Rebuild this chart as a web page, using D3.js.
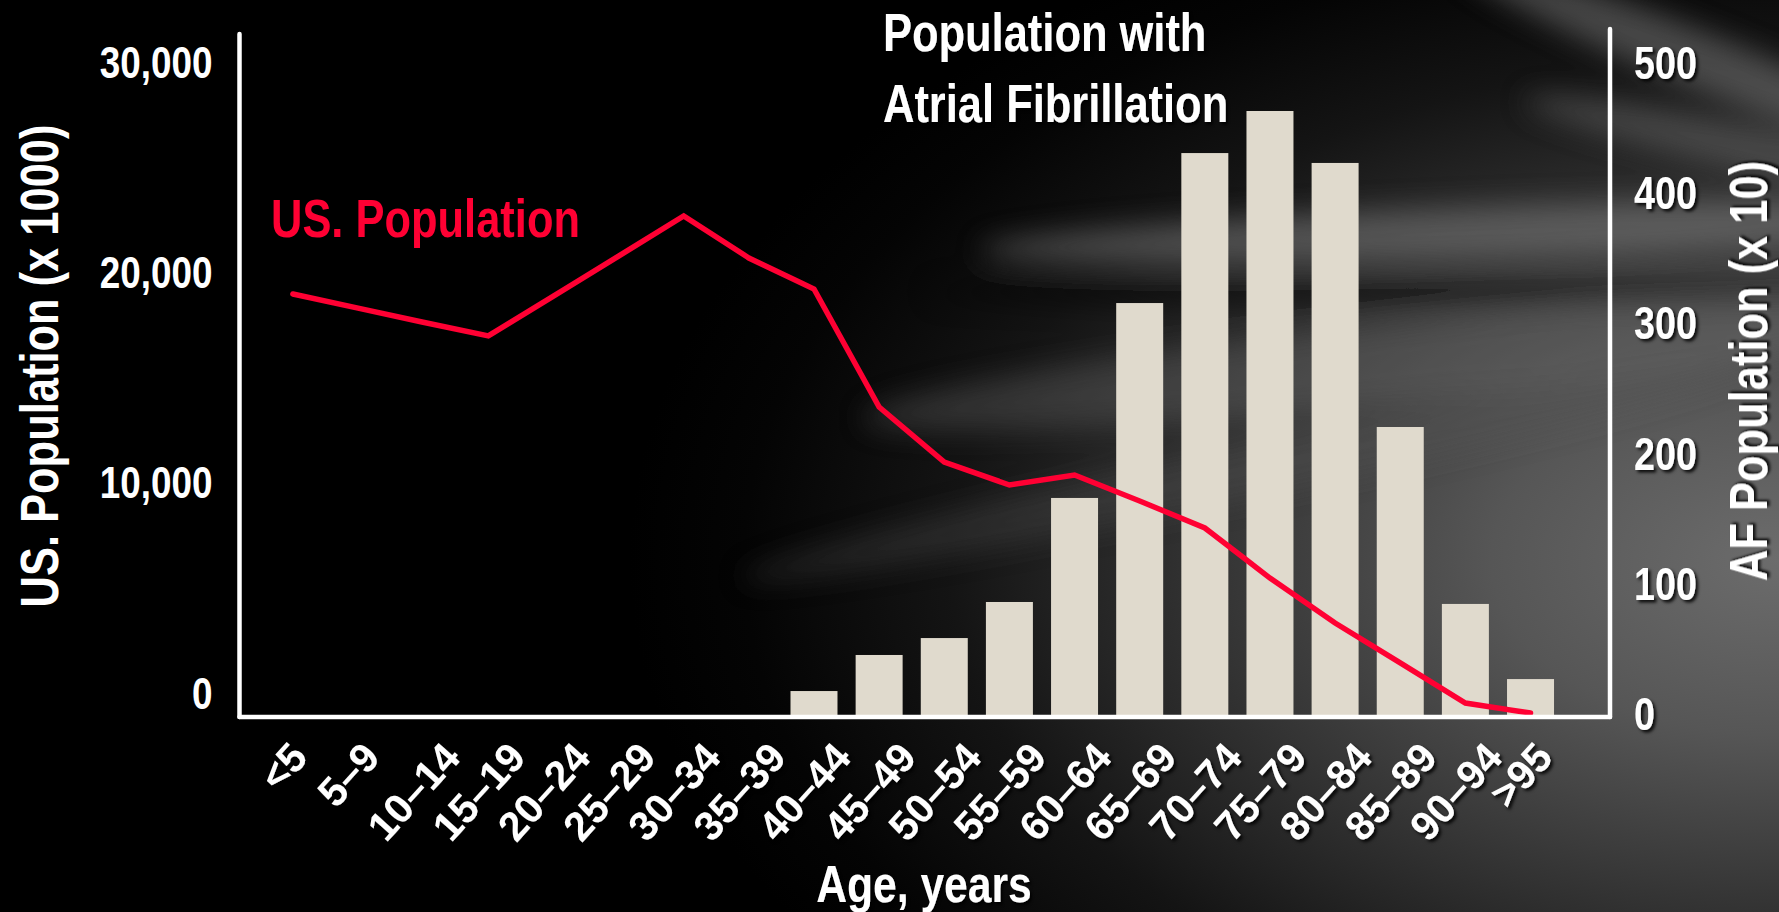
<!DOCTYPE html>
<html>
<head>
<meta charset="utf-8">
<script src="https://cdn.jsdelivr.net/npm/d3@7"></script>
<style>
html,body{margin:0;padding:0;background:#000;overflow:hidden}
svg{display:block}
</style>
</head>
<body>
<svg id="chart" width="1779" height="912"></svg>
<script>
// ---------------- DATA ----------------
const categories = ["<5","5–9","10–14","15–19","20–24","25–29","30–34","35–39","40–44","45–49",
  "50–54","55–59","60–64","65–69","70–74","75–79","80–84","85–89","90–94",">95"];
// US population (x 1000) – red line, left axis
const usPopulation = [19400,18750,18100,17470,19300,21150,23000,21060,19630,14190,
  11660,10600,11060,9860,8620,6310,4240,2400,550,90];
// Population with atrial fibrillation (x 10) – bars, right axis
const afPopulation = [0,0,0,0,0,0,0,0,18.4,46.1,59.1,86.8,166.7,316.4,431.6,463.9,424,221.2,85.3,27.6];
const leftTicks = [0,10000,20000,30000];
const rightTicks = [0,100,200,300,400,500];

// ---------------- SETUP ----------------
const W = 1779, H = 912;
const FONT = "'Liberation Sans', Arial, Helvetica, sans-serif";
const NARROW = 0.82;
const RED = "#ff0033";
const BAR = "#e0dacd";

const svg = d3.select("#chart");
const defs = svg.append("defs");

// background glow
const rg = defs.append("radialGradient").attr("id","bgGlow")
  .attr("gradientUnits","userSpaceOnUse").attr("cx",0).attr("cy",0).attr("r",1)
  .attr("gradientTransform","translate(1779,560) scale(1150,700)");
[[0,"#6c6c6c"],[0.25,"#565656"],[0.5,"#333333"],[0.72,"#141414"],[0.9,"#040404"],[1,"#000000"]]
  .forEach(([o,c]) => rg.append("stop").attr("offset",o).attr("stop-color",c));

defs.append("filter").attr("id","blur1").attr("x","-50%").attr("y","-50%").attr("width","200%").attr("height","200%")
  .append("feGaussianBlur").attr("stdDeviation",14);

const shadow = defs.append("filter").attr("id","shadow").attr("x","-20%").attr("y","-20%").attr("width","140%").attr("height","140%");
shadow.append("feDropShadow").attr("dx",2.5).attr("dy",2.5).attr("stdDeviation",1.5)
  .attr("flood-color","#000").attr("flood-opacity",0.85);

const bg = svg.append("g");
bg.append("rect").attr("width",W).attr("height",H).attr("fill","#000");
bg.append("rect").attr("width",W).attr("height",H).attr("fill","url(#bgGlow)");
// light streaks radiating from right edge
const streaks = bg.append("g").attr("filter","url(#blur1)");
streaks.append("ellipse").attr("cx",1700).attr("cy",60).attr("rx",260).attr("ry",28)
  .attr("transform","rotate(22,1700,60)").attr("fill","#8a8a8a").attr("opacity",0.45);
streaks.append("ellipse").attr("cx",1760).attr("cy",150).attr("rx",240).attr("ry",22)
  .attr("transform","rotate(12,1760,150)").attr("fill","#7a7a7a").attr("opacity",0.4);
streaks.append("ellipse").attr("cx",1500).attr("cy",232).attr("rx",520).attr("ry",26)
  .attr("transform","rotate(-2,1500,232)").attr("fill","#8c8c8c").attr("opacity",0.45);
streaks.append("ellipse").attr("cx",1450).attr("cy",292).attr("rx",520).attr("ry",12)
  .attr("fill","#000").attr("opacity",0.6);
streaks.append("ellipse").attr("cx",1420).attr("cy",360).attr("rx",560).attr("ry",40)
  .attr("transform","rotate(-6,1420,360)").attr("fill","#7a7a7a").attr("opacity",0.3);
streaks.append("ellipse").attr("cx",1250).attr("cy",470).attr("rx",520).attr("ry",26)
  .attr("transform","rotate(-12,1250,470)").attr("fill","#5a5a5a").attr("opacity",0.3);

// ---------------- SCALES ----------------
const x = d3.scaleBand().domain(categories).range([260.3, 1563.1])
  .paddingInner(0.2785).paddingOuter(0.1393);
const yLine = d3.scaleLinear().domain([0,30000]).range([715,64]);
const yLeftAxis = d3.scaleLinear().domain([0,30000]).range([692,61]);
const yRight = d3.scaleLinear().domain([0,500]).range([715,64]);

// ---------------- BARS ----------------
const barData = categories.map((c,i) => ({c, v: afPopulation[i]})).filter(d => d.v > 0);
svg.append("g").selectAll("rect").data(barData).join("rect")
  .attr("x", d => x(d.c))
  .attr("width", x.bandwidth())
  .attr("y", d => yRight(d.v))
  .attr("height", d => yRight(0) - yRight(d.v))
  .attr("fill", BAR);

// ---------------- LINE ----------------
const lineData = categories.map((c,i) => ({c, v: usPopulation[i]}));
svg.append("path").datum(lineData)
  .attr("d", d3.line().x(d => x(d.c) + x.bandwidth()/2).y(d => yLine(d.v)))
  .attr("fill","none").attr("stroke",RED).attr("stroke-width",5.5)
  .attr("stroke-linejoin","miter").attr("stroke-linecap","round");

// ---------------- AXIS LINES ----------------
const axes = svg.append("g").attr("stroke","#fff").attr("stroke-width",4.5).attr("stroke-linecap","round");
axes.append("line").attr("x1",239.5).attr("x2",239.5).attr("y1",34).attr("y2",717);
axes.append("line").attr("x1",1610).attr("x2",1610).attr("y1",29).attr("y2",717);
axes.append("line").attr("x1",239.5).attr("x2",1610).attr("y1",717).attr("y2",717);

// ---------------- AXES ----------------
const gL = svg.append("g").attr("transform","translate(239.5,0)")
  .call(d3.axisLeft(yLeftAxis).tickValues(leftTicks).tickSize(0).tickFormat(d3.format(",")));
gL.select(".domain").remove();
gL.attr("font-family",FONT).attr("font-size",45).attr("font-weight","bold");
gL.selectAll("text").attr("fill","#fff").attr("x",0).attr("dy","0.36em")
  .attr("transform",`translate(-27,0) scale(${NARROW},1)`);

const gR = svg.append("g").attr("transform","translate(1610,0)")
  .call(d3.axisRight(yRight).tickValues(rightTicks).tickSize(0).tickFormat(d3.format("d")));
gR.select(".domain").remove();
gR.attr("font-family",FONT).attr("font-size",46).attr("font-weight","bold").attr("filter","url(#shadow)");
gR.selectAll("text").attr("fill","#fff").attr("x",0).attr("dy","0.36em")
  .attr("transform",`translate(24,-2) scale(${NARROW},1)`);

// category labels: rotated, bounding box top-aligned below the axis
const XFS = 41, ANG = 48;
const gB = svg.append("g").attr("transform","translate(0,717)")
  .call(d3.axisBottom(x).tickSize(0));
gB.select(".domain").remove();
gB.attr("font-family",FONT).attr("font-size",XFS).attr("font-weight","bold").attr("filter","url(#shadow)");
gB.selectAll("text").attr("fill","#fff").attr("x",0).attr("y",0).attr("dy","0.36em")
  .attr("text-anchor","middle")
  .each(function() {
    const L = this.getComputedTextLength();
    const h = 0.716 * XFS;
    const a = ANG * Math.PI / 180;
    const halfH = (L * Math.sin(a) + h * Math.cos(a)) / 2;
    d3.select(this).attr("transform", `translate(-10,${22 + halfH}) rotate(${-ANG})`);
  });

// ---------------- TEXTS ----------------
function narrowText(str, tx, ty, size, opts = {}) {
  const t = svg.append("text")
    .attr("transform", `translate(${tx},${ty})${opts.rotate ? ` rotate(${opts.rotate})` : ""} scale(${NARROW},1)`)
    .attr("font-family", FONT).attr("font-weight","bold").attr("font-size", size)
    .attr("fill", opts.fill || "#fff")
    .attr("text-anchor", opts.anchor || "start")
    .text(str);
  if (opts.filter) t.attr("filter", opts.filter);
  return t;
}
narrowText("Population with", 883, 51, 53, {filter:"url(#shadow)"});
narrowText("Atrial Fibrillation", 883, 122, 53, {filter:"url(#shadow)"});
narrowText("US. Population", 271, 237, 53, {fill: RED});
narrowText("US. Population (x 1000)", 58, 366, 53, {rotate:-90, anchor:"middle"});
narrowText("AF Population (x 10)", 1767, 371, 53, {rotate:-90, anchor:"middle", filter:"url(#shadow)"});
narrowText("Age, years", 924, 902, 52, {anchor:"middle", filter:"url(#shadow)"});
</script>
</body>
</html>
